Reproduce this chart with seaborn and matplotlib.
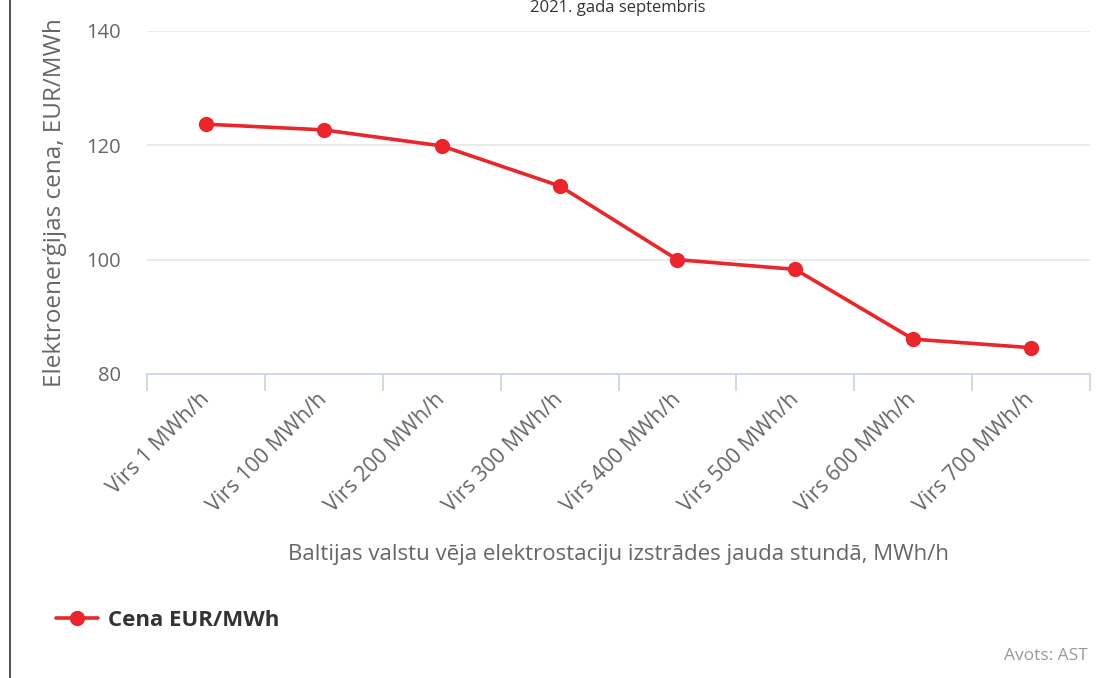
import numpy as np
import pandas as pd
import matplotlib
matplotlib.use('Agg')
import matplotlib.pyplot as plt
import matplotlib.transforms as mtransforms
from matplotlib.lines import Line2D
import seaborn as sns

# Data
categories = ["Virs 1 MWh/h", "Virs 100 MWh/h", "Virs 200 MWh/h", "Virs 300 MWh/h",
              "Virs 400 MWh/h", "Virs 500 MWh/h", "Virs 600 MWh/h", "Virs 700 MWh/h"]
prices = [123.7, 122.7, 119.9, 112.9, 100.0, 98.3, 86.1, 84.6]
y_ticks = [80, 100, 120, 140]

df = pd.DataFrame({"kategorija": categories, "cena": prices})

sns.set_theme(style="white")
plt.rcParams['font.family'] = ['Open Sans', 'DejaVu Sans']

red = "#e8262b"
grey = "#666666"

fig = plt.figure(figsize=(11.11, 6.78), dpi=100)
ax = fig.add_axes([147 / 1111, 1 - 374 / 678, (1090 - 147) / 1111, (374 - 31) / 678])

sns.lineplot(data=df, x="kategorija", y="cena", ax=ax, color=red, linewidth=2.6,
             marker="o", markersize=11, markeredgewidth=0, sort=False)

ax.set_xlim(-0.5, len(categories) - 0.5)
ax.set_ylim(80, 140)
ax.set_yticks(y_ticks)
ax.yaxis.grid(True, color="#e6e6e6", linewidth=1.2)
ax.set_axisbelow(True)

for side in ["top", "right", "left"]:
    ax.spines[side].set_visible(False)
ax.spines["bottom"].set_color("#ccd6eb")
ax.spines["bottom"].set_linewidth(1.3)

# category labels, end of the text sits just right of the category centre
ax.set_xticks(range(len(categories)))
ax.set_xticklabels(categories, rotation=45, ha="right", va="center", rotation_mode="anchor",
                   fontsize=15.5, color=grey)
shift = mtransforms.ScaledTranslation(6 / 100, 0, fig.dpi_scale_trans)
for lbl in ax.get_xticklabels():
    lbl.set_transform(lbl.get_transform() + shift)
ax.set_xticks(np.arange(-0.5, len(categories)), minor=True)
ax.tick_params(axis="x", which="major", bottom=True, length=0, pad=16)
ax.tick_params(axis="x", which="minor", bottom=True, length=12, color="#ccd6eb",
               width=1.3, direction="out")
ax.tick_params(axis="y", length=0, labelsize=14.5, labelcolor=grey, pad=19)

ax.set_xlabel("Baltijas valstu vēja elektrostaciju izstrādes jauda stundā, MWh/h",
              fontsize=16, color=grey, labelpad=20)
ax.set_ylabel("Elektroenerģijas cena, EUR/MWh", fontsize=17.5, color=grey, labelpad=14)

# title (cut off in the reference), kept just inside the top edge
fig.text(618 / 1111, 1.0, "2021. gada septembris", ha="center", va="top",
         fontsize=12, color="#333333")

# legend
handle = Line2D([], [], color=red, linewidth=2.6, marker="o", markersize=11, markeredgewidth=0)
leg = fig.legend([handle], ["Cena EUR/MWh"], loc="center left",
                 bbox_to_anchor=(36 / 1111, 1 - 620 / 678), frameon=False,
                 handlelength=1.9, handletextpad=0.45,
                 prop={"size": 16, "weight": "bold"})
for t in leg.get_texts():
    t.set_color("#333333")

fig.text(1088 / 1111, 1 - 656 / 678, "Avots: AST", ha="right", va="center",
         fontsize=12.5, color="#999999")

# left border line
fig.add_artist(Line2D([10 / 1111, 10 / 1111], [0, 1], color="#333333", linewidth=1.2,
                      transform=fig.transFigure))

fig.savefig("out.png", dpi=100)
